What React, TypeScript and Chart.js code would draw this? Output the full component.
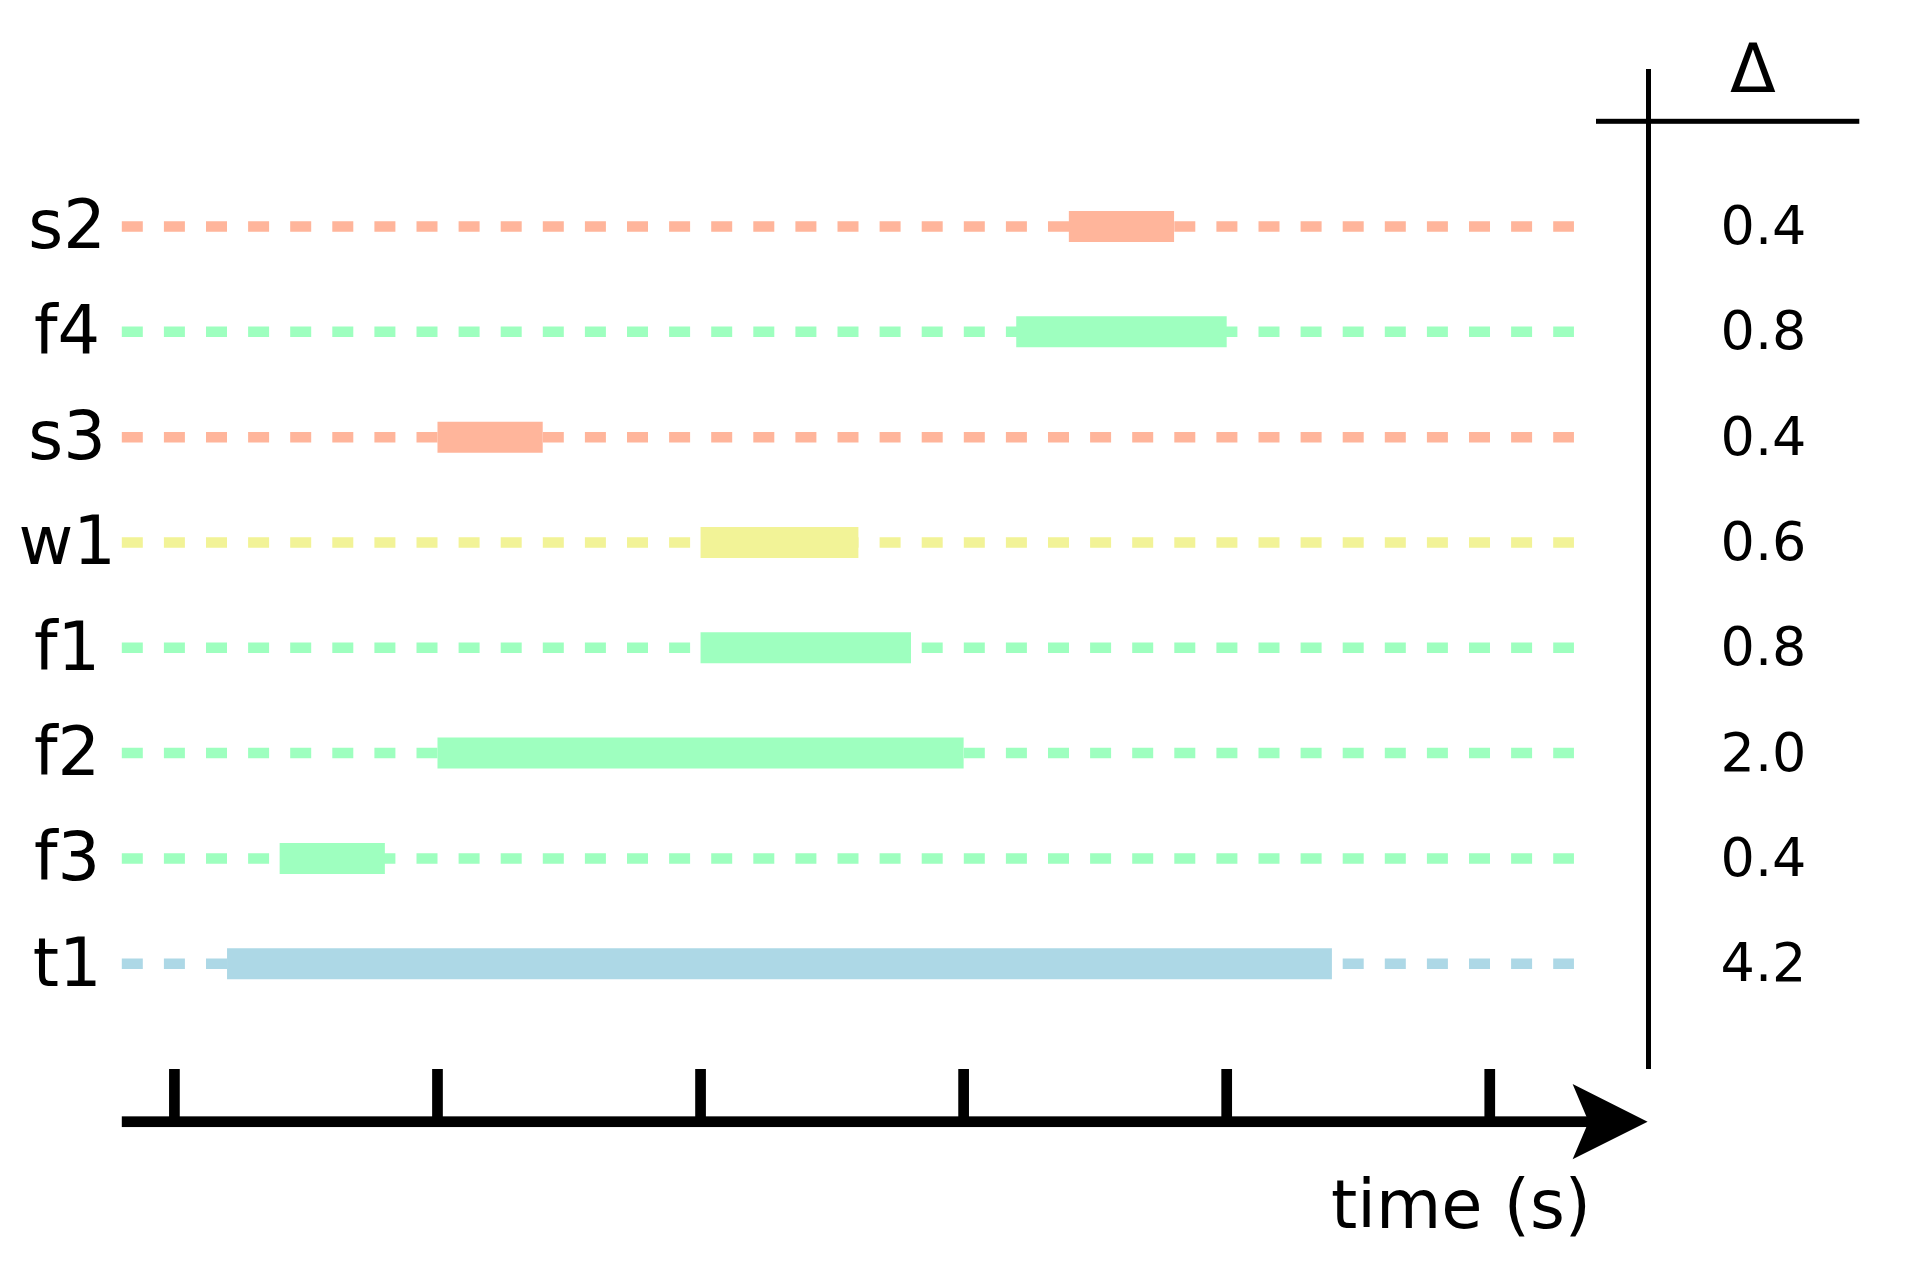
import React, { useEffect, useRef } from "react";
import { Chart, registerables } from "chart.js";

Chart.register(...registerables);

// ---- data ----
const rows = ["s2", "f4", "s3", "w1", "f1", "f2", "f3", "t1"];
const starts = [3.4, 3.2, 1.0, 2.0, 2.0, 1.0, 0.4, 0.2];
const ends = [3.8, 4.0, 1.4, 2.6, 2.8, 3.0, 0.8, 4.4];
const deltaLabels = ["0.4", "0.8", "0.4", "0.6", "0.8", "2.0", "0.4", "4.2"];
const xTicks = [0, 1, 2, 3, 4, 5];
const lineStart = -0.2;
const lineEnd = 5.32;
const axisMin = -0.2;
const axisMax = 5.6;

// ---- styles ----
const kindColors: Record<string, string> = {
  s: "#FFB59B",
  f: "#9EFFBF",
  w: "#F2F397",
  t: "#ADD8E6",
};
const FONT = "'DejaVu Sans', 'Liberation Sans', sans-serif";

const decorPlugin = {
  id: "decor",
  afterDraw(chart: any) {
    const ctx = chart.ctx as CanvasRenderingContext2D;
    const xs = chart.scales.x;
    const axisY = 1121.7;
    const tip = xs.getPixelForValue(axisMax);
    const left = xs.getPixelForValue(axisMin);
    ctx.save();
    ctx.fillStyle = "#000";
    // axis line
    const notch = tip - 59;
    ctx.fillRect(left, axisY - 5.35, notch - left + 2, 10.7);
    // ticks
    xTicks.forEach((v) => {
      const px = xs.getPixelForValue(v);
      ctx.fillRect(px - 5.35, 1069, 10.7, axisY - 1069);
    });
    // arrow head
    ctx.beginPath();
    ctx.moveTo(tip - 75, axisY - 37.6);
    ctx.lineTo(tip, axisY);
    ctx.lineTo(tip - 75, axisY + 37.6);
    ctx.lineTo(tip - 59, axisY);
    ctx.closePath();
    ctx.fill();
    // table lines
    ctx.fillRect(1646, 69, 5, 1000);
    ctx.fillRect(1596, 118.8, 263.3, 5);
    // texts
    ctx.font = `67px ${FONT}`;
    ctx.textAlign = "center";
    ctx.textBaseline = "alphabetic";
    ctx.fillText("Δ", 1753, 91.7);
    ctx.fillText("time (s)", 1461, 1228.3);
    ctx.restore();
  },
};

export default function App() {
  const ref = useRef<HTMLCanvasElement | null>(null);
  useEffect(() => {
    if (!ref.current) return;
    const datasets: any[] = [];
    rows.forEach((r, i) => {
      const color = kindColors[r[0]];
      datasets.push({
        label: r + "-bar",
        data: [
          { x: starts[i], y: r },
          { x: ends[i], y: r },
        ],
        borderColor: color,
        backgroundColor: color,
        borderWidth: 31,
        borderCapStyle: "butt",
        pointRadius: 0,
        pointHoverRadius: 0,
        order: 1,
        clip: false,
      });
      datasets.push({
        label: r + "-line",
        data: [
          { x: lineStart, y: r },
          { x: lineEnd, y: r },
        ],
        borderColor: color,
        backgroundColor: color,
        borderWidth: 10.5,
        borderDash: [21, 21.1],
        borderCapStyle: "butt",
        pointRadius: 0,
        pointHoverRadius: 0,
        order: 2,
        clip: false,
      });
    });
    const chart = new Chart(ref.current, {
      type: "line",
      data: { datasets },
      options: {
        animation: false,
        responsive: false,
        maintainAspectRatio: false,
        events: [],
        layout: { padding: { top: 173.85, bottom: 252.65, left: 0, right: 0 } },
        plugins: { legend: { display: false }, tooltip: { enabled: false } },
        scales: {
          x: {
            type: "linear",
            min: axisMin,
            max: axisMax,
            display: false,
          },
          y: {
            type: "category",
            labels: rows,
            position: "left",
            offset: true,
            grid: { display: false, drawTicks: false },
            border: { display: false },
            ticks: {
              font: { family: FONT, size: 67 },
              color: "#000",
              crossAlign: "center",
              padding: 6,
              labelOffset: 4.5,
            },
            afterFit: (s: any) => {
              s.width = 121.8;
            },
          },
          y2: {
            type: "category",
            labels: deltaLabels,
            position: "right",
            offset: true,
            grid: { display: false, drawTicks: false },
            border: { display: false },
            ticks: {
              font: { family: FONT, size: 54 },
              color: "#000",
              crossAlign: "center",
              padding: 73,
              labelOffset: 3.6,
            },
            afterFit: (s: any) => {
              s.width = 257.4;
            },
          },
        },
      } as any,
      plugins: [decorPlugin],
    });
    return () => chart.destroy();
  }, []);
  return (
    <div style={{ position: "fixed", left: 0, top: 0, width: 1905, height: 1269, background: "#fff" }}>
      <canvas ref={ref} width={1905} height={1269} style={{ width: 1905, height: 1269 }} />
    </div>
  );
}
